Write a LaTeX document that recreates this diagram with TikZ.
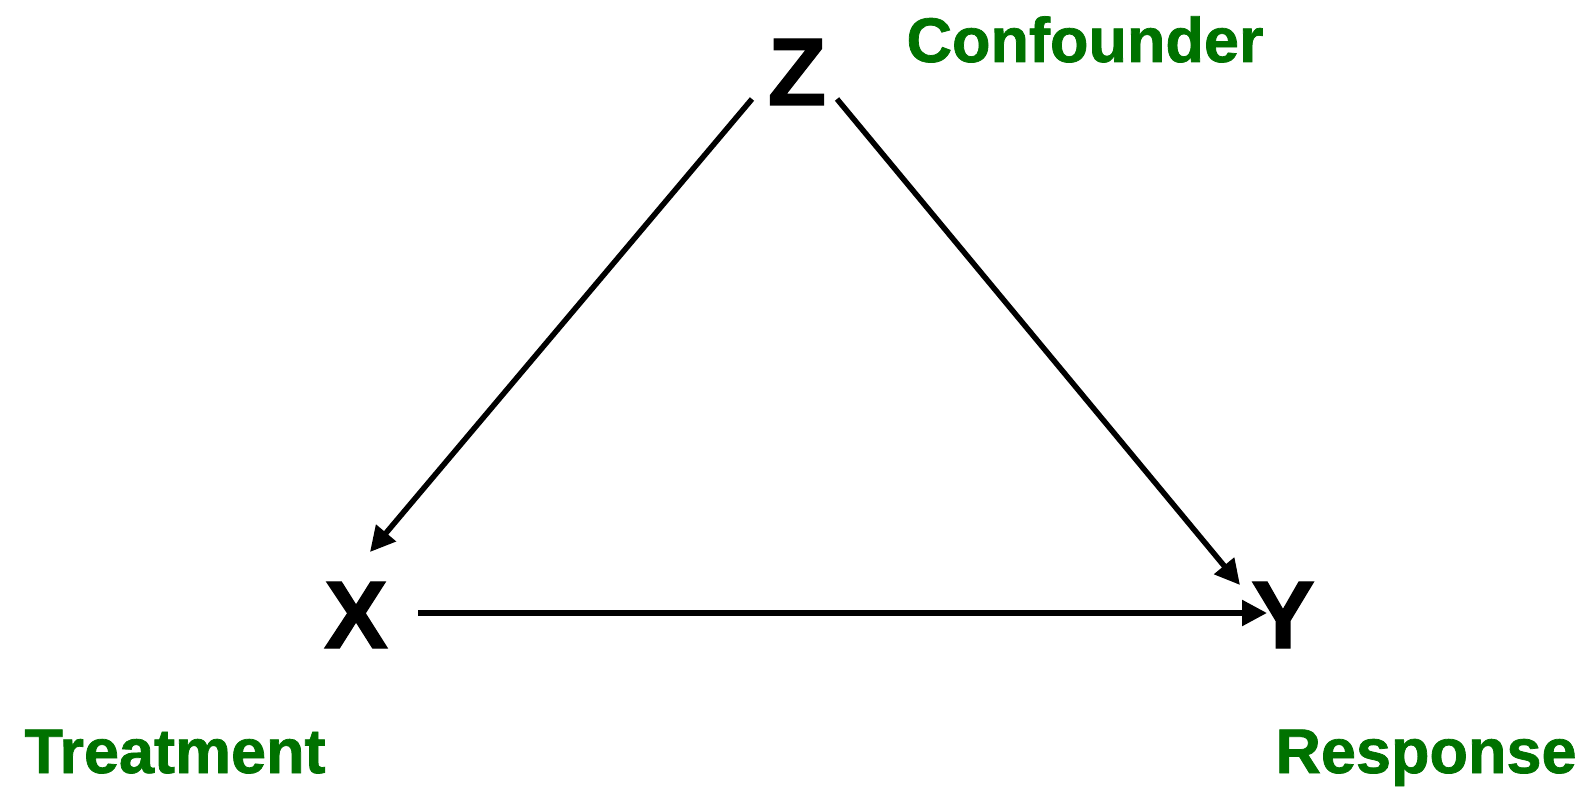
\documentclass[tikz,border=0pt]{standalone}
\usepackage{fontspec}
\setmainfont{Liberation Sans}[BoldFeatures={FakeBold=1.2}]
\usetikzlibrary{arrows.meta}
\definecolor{lblgreen}{RGB}{0,114,0}
\begin{document}
\begin{tikzpicture}[x=1pt,y=-1pt,
  var/.style={inner sep=0pt,anchor=base,font=\fontsize{96}{100}\selectfont\bfseries},
  lbl/.style={inner sep=0pt,anchor=base,text=lblgreen,font=\fontsize{63}{70}\selectfont\bfseries},
  arr/.style={line width=5.5pt,-{Triangle[length=25pt,width=25pt]}}]
\useasboundingbox (0,0) rectangle (1588,789);
\node[var] (Z) at (797,105) {Z};
\node[var] (X) at (356,648) {X};
\node[var] (Y) at (1283,648) {Y};
\node[lbl] (conf) at (1085,62) {Confounder};
\node[lbl] (treat) at (175,773) {Treatment};
\node[lbl] (resp) at (1426,773) {Response};
\draw[arr] ([shift={(-45,-6)}]Z.base) -- ([shift={(14,-96)}]X.base);
\draw[arr] ([shift={(40,-6)}]Z.base) -- ([shift={(-43,-63)}]Y.base);
\draw[arr] ([shift={(62,-35)}]X.base) -- ([shift={(-16,-35)}]Y.base);
\end{tikzpicture}
\end{document}
